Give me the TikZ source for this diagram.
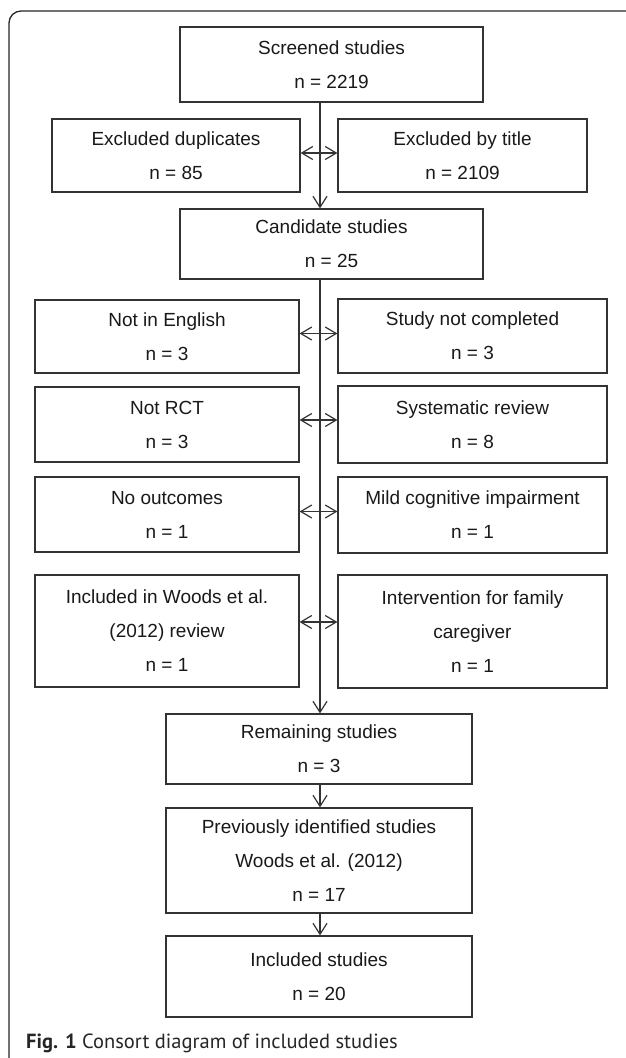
\documentclass[tikz,border=0pt]{standalone}
\usepackage{fontspec}
\setmainfont{Liberation Sans}
\newfontfamily\capfont{PT Sans}
\usetikzlibrary{arrows.meta}
\tikzset{
  box/.style={draw=black!80, line width=1.2pt, rectangle, inner sep=0pt, align=center,
    font=\fontsize{19pt}{34pt}\selectfont, text=black!90},
  conn/.style={draw=black!80, line width=1.2pt, -{Straight Barb[length=11pt,width=14pt]}},
  dconn/.style={draw=black!80, line width=1.2pt, {Straight Barb[length=11pt,width=13pt]}-{Straight Barb[length=11pt,width=13pt]}},
  frame/.style={draw=black!85, line width=1.3pt}
}
\begin{document}
\begin{tikzpicture}[x=1pt,y=-1pt]
\useasboundingbox (0,0) rectangle (625,1058);
\fill[white] (0,0) rectangle (625,1058);
% outer frame
\draw[frame, rounded corners=12pt] (9,1070) |- (640,11);
% axis of main flow
\coordinate (ax) at (320,0);
% nodes
\node[box, minimum width=303pt, minimum height=75pt] (scr) at (331.5,64.5) {Screened studies\\n = 2219};
\node[box, minimum width=248pt, minimum height=73pt] (dup) at (176,155.5) {Excluded duplicates\\n = 85};
\node[box, minimum width=249pt, minimum height=73pt] (tit) at (462.5,155.5) {Excluded by title\\n = 2109};
\node[box, minimum width=303pt, minimum height=70pt] (cand) at (331.5,244) {Candidate studies\\n = 25};
\node[box, minimum width=264pt, minimum height=73pt] (eng) at (167,336.5) {Not in English\\n = 3};
\node[box, minimum width=269pt, minimum height=74pt] (comp) at (472.5,336) {Study not completed\\n = 3};
\node[box, minimum width=264pt, minimum height=75pt] (rct) at (167,424.5) {Not RCT\\n = 3};
\node[box, minimum width=269pt, minimum height=77pt] (sys) at (472.5,424.5) {Systematic review\\n = 8};
\node[box, minimum width=264pt, minimum height=75pt] (out) at (167,514.5) {No outcomes\\n = 1};
\node[box, minimum width=269pt, minimum height=76pt] (mild) at (472.5,515) {Mild cognitive impairment\\n = 1};
\node[box, minimum width=264pt, minimum height=112pt] (woods) at (167,631) {Included in Woods et al.\\(2012) review\\n = 1};
\node[box, minimum width=269pt, minimum height=113pt] (fam) at (472.5,631.5) {Intervention for family\\caregiver\\n = 1};
\node[box, minimum width=306pt, minimum height=70pt] (rem) at (319,749) {Remaining studies\\n = 3};
\node[box, minimum width=306pt, minimum height=105pt] (prev) at (319,860.5) {Previously identified studies\\Woods et al. (2012)\\n = 17};
\node[box, minimum width=306pt, minimum height=81pt] (inc) at (319,976.5) {Included studies\\n = 20};
% main flow
\draw[conn] (scr.south -| ax) -- (cand.north -| ax);
\draw[conn] (cand.south -| ax) -- (rem.north -| ax);
\draw[conn] (rem.south -| ax) -- (prev.north -| ax);
\draw[conn] (prev.south -| ax) -- (inc.north -| ax);
% side exclusions
\draw[dconn] ([yshift=2.5pt]dup.east) -- ([yshift=2.5pt]dup.east -| tit.west);
\draw[dconn] ([yshift=3pt]eng.east) -- ([yshift=3pt]eng.east -| comp.west);
\draw[dconn] ([yshift=4.5pt]rct.east) -- ([yshift=4.5pt]rct.east -| sys.west);
\draw[dconn] ([yshift=3pt]out.east) -- ([yshift=3pt]out.east -| mild.west);
\draw[dconn] ([yshift=9pt]woods.east) -- ([yshift=9pt]woods.east -| fam.west);
% caption
\node[anchor=base west, inner sep=0pt, font=\capfont\fontsize{20.5pt}{24pt}\selectfont, text=black!85] (cap) at (26,1048) {\textbf{Fig. 1} Consort diagram of included studies};
\end{tikzpicture}
\end{document}
